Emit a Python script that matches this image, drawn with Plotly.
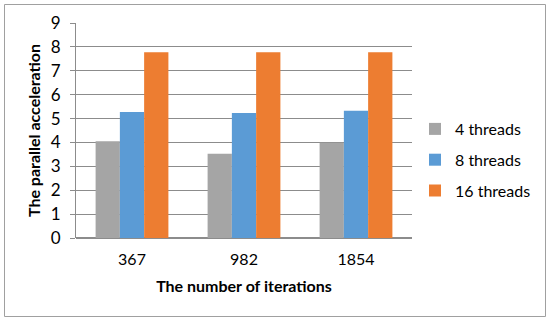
import plotly.graph_objects as go

categories = ["367", "982", "1854"]
series_names = ["4 threads", "8 threads", "16 threads"]
threads4 = [4.05, 3.53, 3.99]
threads8 = [5.27, 5.23, 5.33]
threads16 = [7.78, 7.78, 7.78]
colors = ["#A5A5A5", "#5B9BD5", "#ED7D31"]
y_ticks = list(range(0, 10))

FONT = "Lato, 'Open Sans', sans-serif"

fig = go.Figure()
for name, vals, col in zip(series_names, [threads4, threads8, threads16], colors):
    fig.add_trace(go.Bar(x=categories, y=vals, name=name, legendgroup=name,
                         marker=dict(color=col, line=dict(width=0))))

W, H = 550, 322
L, R, T, B = 76, 138, 23, 84
pw, ph = W - L - R, H - T - B

def px2paper_x(px):
    return (px - L) / pw

def px2paper_y(py):
    return (H - B - py) / ph

fig.update_layout(
    width=W, height=H,
    margin=dict(l=L, r=R, t=T, b=B, autoexpand=False),
    paper_bgcolor="white", plot_bgcolor="white",
    barmode="group", bargap=0.35, bargroupgap=0,
    font=dict(family=FONT, color="#000000"),
    xaxis=dict(
        type="category", showgrid=False, ticks="", showline=False,
        tickfont=dict(size=16, family=FONT), ticklabelstandoff=10,
        title=dict(text="<b>The number of iterations</b>", font=dict(size=16, family=FONT), standoff=13),
    ),
    yaxis=dict(
        range=[0, 9], tickvals=y_ticks, showgrid=True, gridcolor="#8C8C8C", gridwidth=1,
        showline=True, linecolor="#8C8C8C", linewidth=1, ticks="outside", ticklen=5, tickcolor="#8C8C8C",
        tickfont=dict(size=17, family=FONT), zeroline=True, zerolinecolor="#8C8C8C",
        ticklabelstandoff=6,
        title=dict(text="<b>The parallel acceleration</b>", font=dict(size=16, family=FONT), standoff=6),
    ),
    legend=dict(
        x=px2paper_x(415), xanchor="left", y=px2paper_y(160), yanchor="middle",
        font=dict(size=16, family=FONT), tracegroupgap=7, itemwidth=30,
        bgcolor="rgba(0,0,0,0)",
    ),
    showlegend=True,
)

fig.add_shape(
    type="rect", xref="paper", yref="paper",
    x0=px2paper_x(4.5), x1=px2paper_x(545.5), y0=px2paper_y(316.5), y1=px2paper_y(4.5),
    line=dict(color="#A0A0A0", width=1), fillcolor="rgba(0,0,0,0)", layer="below",
)

fig.write_html("out.html", config={"displayModeBar": False},
               post_script="document.body.style.margin='0';document.body.style.overflow='hidden';")
